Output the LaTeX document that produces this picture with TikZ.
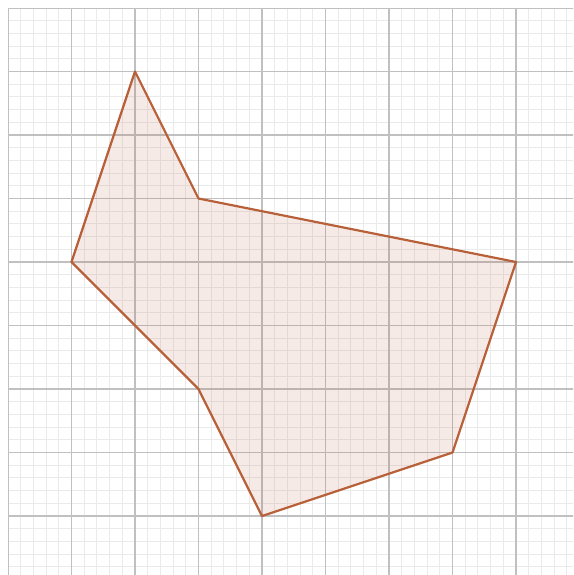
\documentclass[tikz,border=0pt]{standalone}
\definecolor{polyline}{RGB}{184,96,58}
\definecolor{majorgrid}{RGB}{192,192,192}
\definecolor{minorgrid}{RGB}{234,234,234}
\tikzset{
  minorlines/.style={draw=minorgrid, line width=0.45pt},
  majorlines/.style={draw=majorgrid, line width=0.5pt},
  polygonshape/.style={draw=polyline, line width=1pt, line join=round, fill=polyline, fill opacity=0.13}
}
\begin{document}
\begin{tikzpicture}[x=1cm,y=1cm]
\useasboundingbox (-0.126,0.126) rectangle (8.898,-8.929);
\begin{scope}
\clip (0,0) rectangle (8.898,-8.929);
\draw[minorlines, step=0.2] (0,-9) grid (9,0);
\draw[majorlines, step=1] (0,-9) grid (9,0);
\end{scope}
\coordinate (A) at (2,-1);
\coordinate (B) at (3,-3);
\coordinate (C) at (8,-4);
\coordinate (D) at (7,-7);
\coordinate (E) at (4,-8);
\coordinate (F) at (3,-6);
\coordinate (G) at (1,-4);
\draw[polygonshape] (A) -- (B) -- (C) -- (D) -- (E) -- (F) -- (G) -- cycle;
\end{tikzpicture}
\end{document}
